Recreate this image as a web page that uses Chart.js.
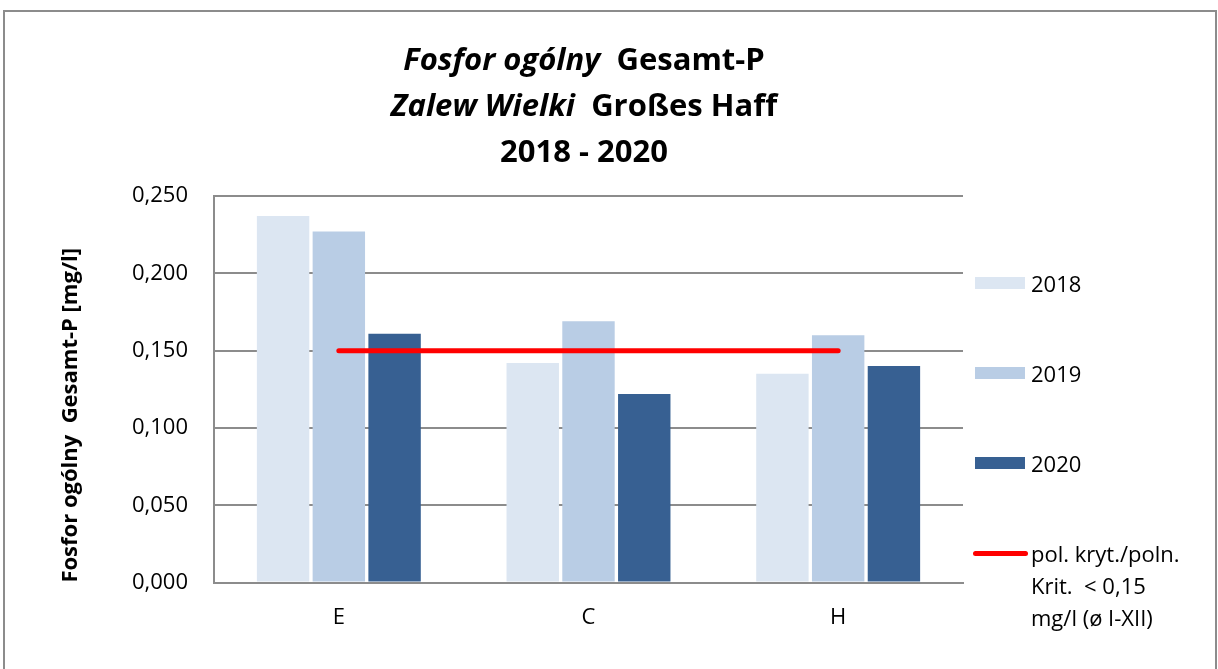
<!DOCTYPE html>
<html>
<head>
<meta charset="utf-8">
<script src="https://cdn.jsdelivr.net/npm/chart.js@4.4.1/dist/chart.umd.min.js"></script>
<style>
  html, body { margin: 0; padding: 0; background: #fff; }
  body { width: 1218px; height: 669px; position: relative; overflow: hidden; font-family: "Open Sans", sans-serif; }
  #frame { position: absolute; left: 3px; top: 10px; width: 1210px; height: 700px; border: 2px solid #8c8c8c; box-sizing: content-box; }
  #chart { position: absolute; left: 0; top: 0; }
  #title { position: absolute; left: 284px; top: 35px; width: 600px; text-align: center; font-weight: 700; font-size: 31px; line-height: 46px; color: #000; white-space: pre; }
  #title i { font-style: italic; }
  #legend { position: absolute; left: 975px; top: 267px; font-size: 22px; color: #000; }
  .item { display: flex; align-items: flex-start; height: 90px; }
  .sw { width: 50px; height: 12px; margin-top: 10px; flex: none; }
  .ln { width: 55px; height: 5px; margin-top: 14px; margin-left: -2px; margin-right: -3px; border-radius: 3px; flex: none; }
  .tx { margin-left: 6px; line-height: 32px; white-space: pre; }
</style>
</head>
<body>
<div id="frame"></div>
<canvas id="chart" width="1218" height="669"></canvas>
<div id="title"></div>
<div id="legend"></div>
<script>
// ---- data ----
const categories = ['E', 'C', 'H'];
const years = ['2018', '2019', '2020'];
const values2018 = [0.237, 0.142, 0.135];
const values2019 = [0.227, 0.169, 0.160];
const values2020 = [0.161, 0.122, 0.140];
const limitValues = [0.15, 0.15, 0.15];
const limitLabel = ['pol. kryt./poln.', 'Krit.  < 0,15', 'mg/l (ø I-XII)'];
const yTicks = [0, 0.05, 0.10, 0.15, 0.20, 0.25];
const titleLines = [
  ['Fosfor ogólny', 'Gesamt-P'],
  ['Zalew Wielki', 'Großes Haff'],
  ['', '2018 - 2020']
];
const yAxisTitle = 'Fosfor ogólny  Gesamt-P [mg/l]';
const yearColors = ['#DCE6F2', '#B9CDE5', '#376092'];
const limitColor = '#FF0000';

// ---- title ----
document.getElementById('title').innerHTML = titleLines.map(([it, rg]) =>
  (it ? '<i>' + it + '</i>  ' : '') + rg).join('<br>');

const gridColor = '#8c8c8c';
const fmt = v => v.toFixed(3).replace('.', ',');

const barSeries = [values2018, values2019, values2020];
const datasets = barSeries.map((vals, i) => ({
  type: 'bar',
  label: years[i],
  data: vals,
  backgroundColor: yearColors[i],
  borderWidth: 0,
  categoryPercentage: 0.67,
  barPercentage: 0.94,
  order: 1
}));
datasets.push({
  type: 'line',
  label: limitLabel,
  data: limitValues,
  borderColor: limitColor,
  backgroundColor: limitColor,
  borderWidth: 5,
  borderCapStyle: 'round',
  pointRadius: 0,
  pointHoverRadius: 0,
  fill: false,
  order: 0
});

const chart = new Chart(document.getElementById('chart'), {
  data: { labels: categories, datasets },
  options: {
    responsive: false,
    animation: false,
    events: [],
    layout: { padding: { top: 196, left: 54, right: 255, bottom: 16 } },
    plugins: { legend: { display: false }, title: { display: false }, tooltip: { enabled: false } },
    scales: {
      x: {
        grid: { display: false, drawTicks: false },
        border: { display: true, color: gridColor, width: 2 },
        ticks: { color: '#000', padding: 22, font: { family: 'Open Sans', size: 22 } }
      },
      y: {
        min: 0, max: 0.25,
        afterBuildTicks: s => { s.ticks = yTicks.map(v => ({ value: v })); },
        afterFit: s => { s.width = 160; },
        grid: { color: gridColor, lineWidth: 2, drawTicks: false },
        border: { display: true, color: gridColor, width: 2 },
        ticks: { color: '#000', padding: 26, font: { family: 'Open Sans', size: 22 }, callback: v => fmt(v) },
        title: {
          display: true, text: yAxisTitle, align: 'start', color: '#000',
          font: { family: 'Open Sans', size: 22, weight: 'bold' },
          padding: { top: 4, bottom: 0 }
        }
      }
    }
  }
});

// ---- legend from chart datasets ----
const legendEl = document.getElementById('legend');
chart.data.datasets.forEach(ds => {
  const item = document.createElement('div');
  item.className = 'item';
  const sw = document.createElement('div');
  sw.className = ds.type === 'line' ? 'ln' : 'sw';
  sw.style.background = ds.type === 'line' ? ds.borderColor : ds.backgroundColor;
  const tx = document.createElement('div');
  tx.className = 'tx';
  tx.textContent = Array.isArray(ds.label) ? ds.label.join('\n') : ds.label;
  item.appendChild(sw);
  item.appendChild(tx);
  legendEl.appendChild(item);
});
</script>
</body>
</html>
